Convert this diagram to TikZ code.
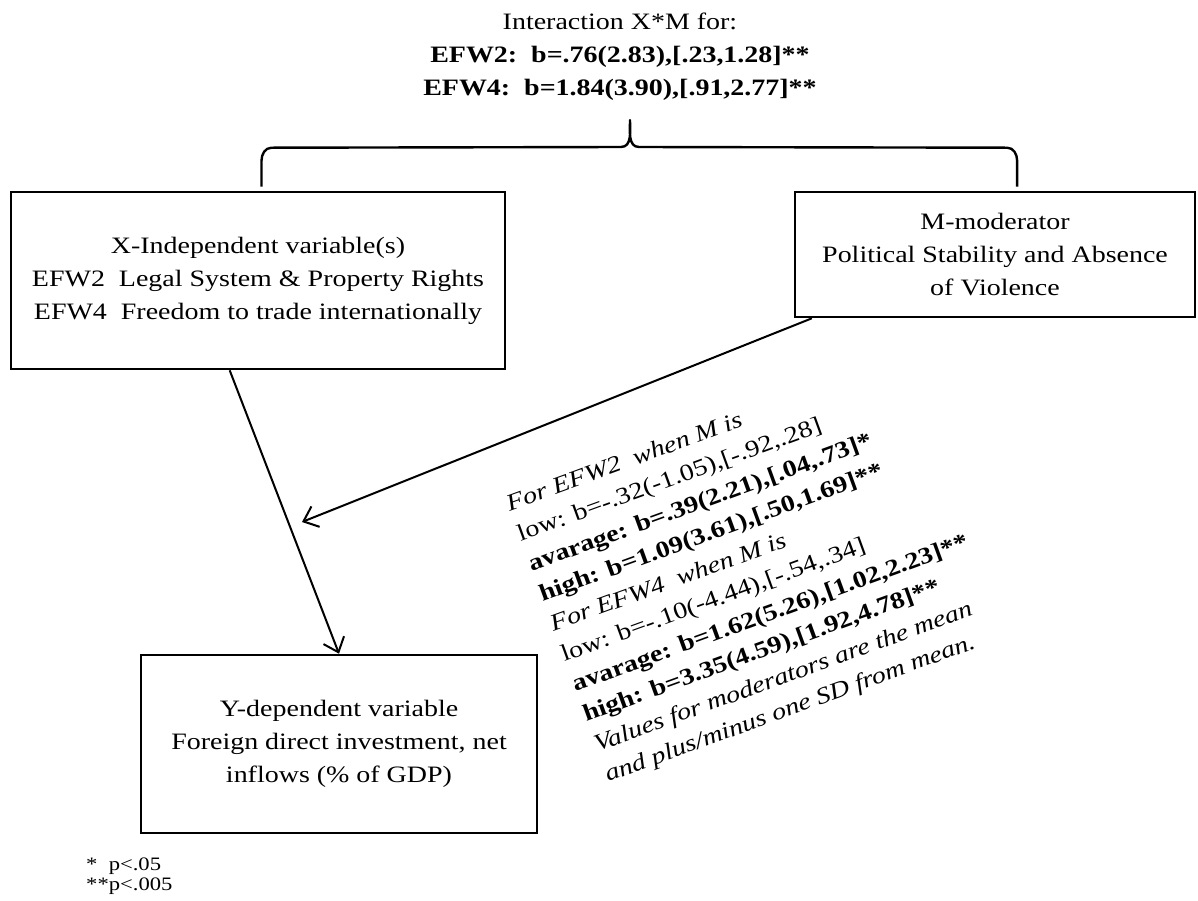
\documentclass[tikz,border=0pt]{standalone}
\usepackage{fontspec}
\setmainfont{Liberation Serif}[FakeStretch=1.19]
\usetikzlibrary{arrows.meta,calc}
\tikzset{
  varbox/.style={draw, line width=2.6pt, fill=white, align=center, inner sep=0pt},
  link/.style={line width=2pt, -{Straight Barb[length=13pt,width=22pt,line width=2pt]}},
  bigtext/.style={font=\fontsize{23.5}{33}\selectfont},
  rottext/.style={font=\fontsize{23.5}{32}\selectfont, align=left, inner sep=0pt, rotate=20, anchor=base west},
}
\begin{document}
\begin{tikzpicture}[x=1pt,y=-1pt]
\useasboundingbox (0,0) rectangle (1198,900);

% interaction heading
\node[bigtext, align=center, inner sep=0pt] (head) at (620,57)
  {Interaction X*M for:\\
   \textbf{EFW2:\ \ b=.76(2.83),[.23,1.28]**}\\
   \textbf{EFW4:\ \ b=1.84(3.90),[.91,2.77]**}};

% variable boxes
\node[varbox, bigtext, minimum width=494pt, minimum height=177pt] (X) at (258,280.5)
  {X-Independent variable(s)\\
   EFW2\ \ Legal System \& Property Rights\\
   EFW4\ \ Freedom to trade internationally};
\node[varbox, bigtext, minimum width=400pt, minimum height=125pt] (M) at (995,254.5)
  {M-moderator\\
   Political Stability and Absence\\
   of Violence};
\node[varbox, bigtext, minimum width=396pt, minimum height=178pt] (Y) at (339,744)
  {Y-dependent variable\\
   Foreign direct investment, net\\
   inflows (\% of GDP)};

% brace joining X and M
\coordinate (brl) at ($(X.north west)!0.507!(X.north east)$);
\coordinate (brr) at ($(M.north west)!0.555!(M.north east)$);
\coordinate (brtip) at (630,120);
\draw[line width=2.4pt, line join=round]
  ($(brl)+(0,-4)$) -- ($(brl)+(0,-30)$) to[out=90,in=180] ($(brl)+(10,-43)$)
  -- ($(brtip)+(-9,27)$) to[out=0,in=-90] (brtip)
  to[out=-90,in=180] ($(brtip)+(9,27)$)
  -- ($(brr)+(-10,-43)$) to[out=0,in=90] ($(brr)+(0,-30)$) -- ($(brr)+(0,-4)$);

% effect arrows
\coordinate (mtip) at (302,522);
\draw[link] ($(X.south west)!0.443!(X.south east)$) -- (Y.north);
\draw[link] ($(M.south west)!0.045!(M.south east)$) -- (mtip);

% conditional effects (base west sits on the last line)
\node[rottext] (cond) at (608,782)
  {\textit{For EFW2\ \ when M is}\\
   low: b=-.32(-1.05),[-.92,.28]\\
   \textbf{avarage: b=.39(2.21),[.04,.73]*}\\
   \textbf{high: b=1.09(3.61),[.50,1.69]**}\\
   \textit{For EFW4\ \ when M is}\\
   low: b=-.10(-4.44),[-.54,.34]\\
   \textbf{avarage: b=1.62(5.26),[1.02,2.23]**}\\
   \textbf{high: b=3.35(4.59),[1.92,4.78]**}\\
   \textit{Values for moderators are the mean}\\
   \textit{and plus/minus one SD from mean.}};

% significance legend
\node[font=\fontsize{19}{20}\selectfont, align=left, inner sep=0pt, anchor=west] (sig) at (86,876)
  {*\ \ p<.05\\**p<.005};
\end{tikzpicture}
\end{document}
